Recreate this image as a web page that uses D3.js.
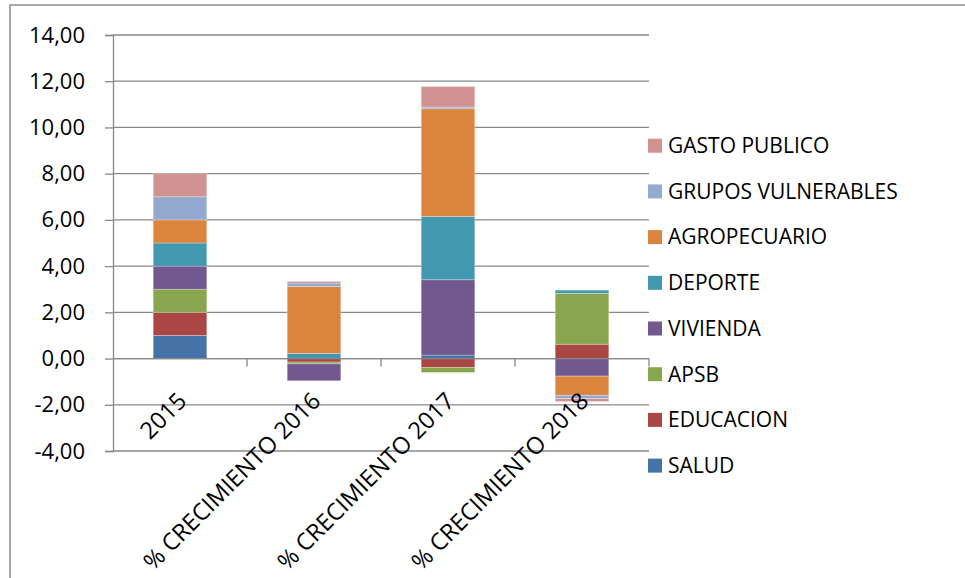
<!DOCTYPE html>
<html>
<head>
<meta charset="utf-8">
<script src="https://cdn.jsdelivr.net/npm/d3@7"></script>
<style>
    body { margin: 0; background: #fff; }
    text { font-family: "Open Sans", sans-serif; fill: #000; }
</style>
</head>
<body>
<svg id="chart" width="965" height="578"></svg>
<script>
let categories = ["2015", "% CRECIMIENTO 2016", "% CRECIMIENTO 2017", "% CRECIMIENTO 2018"];
let seriesNames = ["SALUD", "EDUCACION", "APSB", "VIVIENDA", "DEPORTE", "AGROPECUARIO", "GRUPOS VULNERABLES", "GASTO PUBLICO"];
let seriesColors = ["#4572A7", "#AA4643", "#89A54E", "#71588F", "#4198AF", "#DB843D", "#93A9CF", "#D19392"];

// values per series, one per category
let salud = [1, 0, 0.15, 0];
let educacion = [1, -0.15, -0.39, 0.62];
let apsb = [1, -0.08, -0.21, 2.2];
let vivienda = [1, -0.73, 3.26, -0.76];
let deporte = [1, 0.22, 2.74, 0.14];
let agropecuario = [1, 2.9, 4.66, -0.83];
let grupos = [1, 0.15, 0.07, -0.14];
let gasto = [1, 0.07, 0.89, -0.13];

let yTicks = [-4, -2, 0, 2, 4, 6, 8, 10, 12, 14];

let seriesValues = [salud, educacion, apsb, vivienda, deporte, agropecuario, grupos, gasto];

let rows = categories.map((c, i) => {
    let row = {cat: c};
    seriesNames.forEach((s, j) => row[s] = seriesValues[j][i]);
    return row;
});

let svg = d3.select("#chart");
let plotLeft = 113, plotRight = 649, plotTop = 35, plotBottom = 451;

// chart border
svg.append("rect")
    .attr("x", 10).attr("y", 5)
    .attr("width", 970).attr("height", 600)
    .attr("fill", "none").attr("stroke", "#8c8c8c").attr("stroke-width", 1.5);

let x = d3.scaleBand()
    .domain(categories)
    .range([plotLeft, plotRight])
    .paddingInner(0.6)
    .paddingOuter(0.3);

let y = d3.scaleLinear()
    .domain([-4, 14])
    .range([plotBottom, plotTop]);

// gridlines
svg.append("g")
    .selectAll("line")
    .data(yTicks)
    .join("line")
    .attr("x1", plotLeft).attr("x2", plotRight)
    .attr("y1", d => y(d)).attr("y2", d => y(d))
    .attr("stroke", "#888").attr("stroke-width", 1.3);

// y axis
let yAxis = svg.append("g")
    .attr("transform", `translate(${plotLeft},0)`)
    .call(d3.axisLeft(y).tickValues(yTicks).tickSize(8).tickPadding(20)
        .tickFormat(d => d3.format(".2f")(d).replace(".", ",").replace("\u2212", "-")));
yAxis.select(".domain").attr("stroke", "#888").attr("stroke-width", 1.3);
yAxis.selectAll(".tick line").attr("stroke", "#888").attr("stroke-width", 1.3);
yAxis.selectAll(".tick text").attr("font-size", 22).attr("font-family", "Open Sans").attr("fill", "#000");

// stacked bars
let stack = d3.stack()
    .keys(seriesNames)
    .offset(d3.stackOffsetDiverging);
let stacked = stack(rows);

svg.append("g")
    .selectAll("g")
    .data(stacked)
    .join("g")
    .attr("fill", (d, i) => seriesColors[i])
    .selectAll("rect")
    .data(d => d)
    .join("rect")
    .attr("x", d => x(d.data.cat))
    .attr("width", x.bandwidth())
    .attr("y", d => y(Math.max(d[0], d[1])))
    .attr("height", d => Math.abs(y(d[0]) - y(d[1])))
    .attr("stroke", "#fff").attr("stroke-opacity", 0.35).attr("stroke-width", 0.8);

// category axis on zero line
let zeroY = y(0);
let step = x.step();
let boundaries = d3.range(categories.length + 1).map(i => plotLeft + i * step);
svg.append("line")
    .attr("x1", plotLeft).attr("x2", plotRight)
    .attr("y1", zeroY).attr("y2", zeroY)
    .attr("stroke", "#888").attr("stroke-width", 1.3);
svg.append("g")
    .selectAll("line")
    .data(boundaries.slice(1))
    .join("line")
    .attr("x1", d => d).attr("x2", d => d)
    .attr("y1", zeroY).attr("y2", zeroY + 8)
    .attr("stroke", "#888").attr("stroke-width", 1.3);

svg.append("g")
    .selectAll("text")
    .data(categories)
    .join("text")
    .attr("transform", d => `translate(${x(d) + x.bandwidth() / 2 + 8},${zeroY + 44}) rotate(-45)`)
    .attr("text-anchor", "end")
    .attr("font-size", 23.5)
    .text(d => d);

// legend, top entry is last series
let legend = svg.append("g")
    .selectAll("g")
    .data(seriesNames.slice().reverse())
    .join("g")
    .attr("transform", (d, i) => `translate(648,${145.7 + i * 45.7})`);
legend.append("rect")
    .attr("x", 0).attr("y", -7)
    .attr("width", 14).attr("height", 14)
    .attr("fill", d => seriesColors[seriesNames.indexOf(d)]);
legend.append("text")
    .attr("x", 20).attr("y", 0)
    .attr("dy", "0.35em")
    .attr("font-size", 21)
    .text(d => d);
</script>
</body>
</html>
